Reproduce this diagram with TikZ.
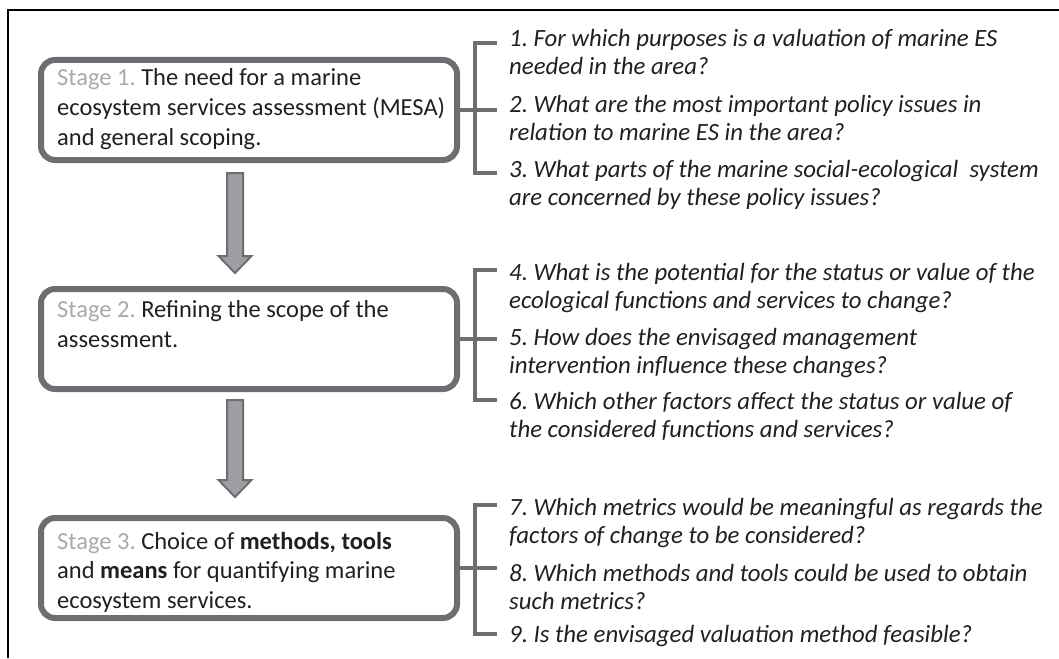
\documentclass[tikz,border=0pt]{standalone}
\usepackage{fontspec}
\setmainfont{Carlito}
\usetikzlibrary{calc}
\frenchspacing
\definecolor{boxgray}{HTML}{6D6E71}
\definecolor{fillgray}{HTML}{9D9FA2}
\definecolor{stagegray}{HTML}{A7A9AC}
\definecolor{txt}{HTML}{231F20}
\tikzset{
  stagebox/.style={draw=boxgray, line width=6pt, rounded corners=14pt, minimum width=416pt, minimum height=100pt, inner sep=0pt},
  stagetext/.style={anchor=base west, align=left, inner sep=0pt, text=txt, font=\fontsize{24.5}{29.5}\selectfont\frenchspacing},
  question/.style={anchor=base west, align=left, inner sep=0pt, text=txt, font=\fontsize{24.8}{28}\selectfont\itshape\frenchspacing},
  bracket/.style={draw=boxgray, line width=3.5pt},
  blockarrow/.style={draw=boxgray, fill=fillgray, line width=2pt, line join=miter},
  frame/.style={draw=black, line width=2pt}
}
\begin{document}
\begin{tikzpicture}[x=1pt,y=-1pt]
\useasboundingbox (0,0) rectangle (1059,658);
% frame
\coordinate (fbl) at (8,658);
\coordinate (ftl) at (8,10);
\coordinate (ftr) at (1059,10);
\draw[frame] (fbl) -- (ftl) -- (ftr);
% stage boxes
\node[stagebox] (s1) at (249,110) {};
\node[stagebox] (s2) at (249,339) {};
\node[stagebox] (s3) at (249,568) {};
% (base anchor = baseline of the last line)
\node[stagetext] (t1) at (57,145) {{\color{stagegray}Stage 1.} The need for a marine\\ecosystem services assessment (MESA)\\and general scoping.};
\node[stagetext] (t2) at (57,347) {{\color{stagegray}Stage 2.} Refining the scope of the\\assessment.};
\node[stagetext] (t3) at (57,608) {{\color{stagegray}Stage 3.} Choice of \textbf{methods, tools}\\and \textbf{means} for quantifying marine\\ecosystem services.};
% arrows
\coordinate (a1s) at ($(s1.south)+(-14,10)$);
\coordinate (a1t) at ($(s2.north)+(-14,-13)$);
\coordinate (a2s) at ($(s2.south)+(-14,8)$);
\coordinate (a2t) at ($(s3.north)+(-14,-18)$);
\foreach \s/\t in {a1s/a1t, a2s/a2t}{
  \draw[blockarrow] ($(\s)+(-8,0)$) -- ($(\t)+(-8,-17)$) -- ($(\t)+(-16.5,-17)$) -- (\t) -- ($(\t)+(16.5,-17)$) -- ($(\t)+(8,-17)$) -- ($(\s)+(8,0)$) -- cycle;
}
% brackets
\coordinate (b1t) at (497,43);
\coordinate (b1b) at (497,173);
\coordinate (b2t) at (497,270);
\coordinate (b2b) at (497,400);
\coordinate (b3t) at (497,505);
\coordinate (b3b) at (497,634);
\draw[bracket] (s1.east) -- ++(37,0) coordinate (b1m);
\draw[bracket] (b1t) -- ++(-22,0) -- ($(b1b)+(-22,0)$) -- (b1b);
\draw[bracket] (s2.east) -- ++(37,0) coordinate (b2m);
\draw[bracket] (b2t) -- ++(-22,0) -- ($(b2b)+(-22,0)$) -- (b2b);
\draw[bracket] (s3.east) -- ++(37,0) coordinate (b3m);
\draw[bracket] (b3t) -- ++(-22,0) -- ($(b3b)+(-22,0)$) -- (b3b);
% questions
\node[question] (q1) at (509,75) {1. For which purposes is a valuation of marine ES\\needed in the area?};
\node[question] (q2) at (509,140) {2. What are the most important policy issues in\\relation to marine ES in the area?};
\node[question] (q3) at (509,205) {3. What parts of the marine social-ecological\ \ system\\are concerned by these policy issues?};
\node[question] (q4) at (509,308) {4. What is the potential for the status or value of the\\ecological functions and services to change?};
\node[question] (q5) at (509,373) {5. How does the envisaged management\\intervention influence these changes?};
\node[question] (q6) at (509,437) {6. Which other factors affect the status or value of\\the considered functions and services?};
\node[question] (q7) at (509,543) {7. Which metrics would be meaningful as regards the\\factors of change to be considered?};
\node[question] (q8) at (509,609) {8. Which methods and tools could be used to obtain\\such metrics?};
\node[question] (q9) at (509,642) {9. Is the envisaged valuation method feasible?};
\end{tikzpicture}
\end{document}
